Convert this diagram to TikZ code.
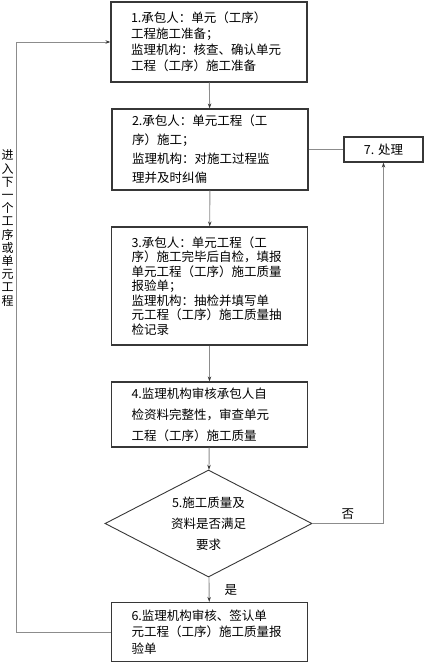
\documentclass[tikz,border=0pt]{standalone}
\usepackage{graphicx}
\usepackage{fontspec}
\setmainfont{Noto Sans CJK SC}
\usetikzlibrary{shapes.geometric,arrows.meta,positioning}
\definecolor{boxclr}{RGB}{55,55,55}
\definecolor{lineclr}{RGB}{140,140,140}
% text blocks set at 10pt and scaled up: #1 width, #2 line spacing, #3 lines
\newcommand{\steptext}[3]{\scalebox{1.25}{\parbox{#1}{\raggedright\fontsize{10}{#2}\selectfont #3}}}
\newcommand{\midtext}[3]{\scalebox{1.25}{\parbox{#1}{\centering\fontsize{10}{#2}\selectfont #3}}}

\begin{document}
\begin{tikzpicture}[x=1pt, y=-1pt,
  stepbox/.style={draw=boxclr, line width=1.2pt, minimum width=196pt,
    inner xsep=20pt},
  smallbox/.style={draw=boxclr, line width=1.2pt, minimum width=79pt,
    minimum height=25pt},
  decision/.style={draw=boxclr, line width=0.9pt, diamond, aspect=1.93,
    inner sep=0pt, minimum width=207pt, minimum height=107pt},
  flow/.style={draw=lineclr, line width=0.9pt, -{Stealth[length=5pt,width=3.5pt,color=boxclr]}},
  plain/.style={draw=lineclr, line width=0.9pt}
]
\useasboundingbox (0,0) rectangle (428,663);

% Steps down the middle
\node[stepbox, minimum height=80pt] (s1) at (209,42)
  {\steptext{124.8pt}{12.8}{1.承包人：单元（工序）\\工程施工准备；\\监理机构：核查、确认单元\\工程（工序）施工准备}};
\node[stepbox, minimum height=81pt] (s2) at (210,149.5)
  {\steptext{124.8pt}{15.2}{2.承包人：单元工程（工\\序）施工；\\监理机构：对施工过程监\\理并及时纠偏}};
\node[stepbox, minimum height=118pt] (s3) at (209.5,286)
  {\steptext{124.8pt}{11.6}{3.承包人：单元工程（工\\序）施工完毕后自检，填报\\单元工程（工序）施工质量\\报验单；\\监理机构：抽检并填写单\\元工程（工序）施工质量抽\\检记录}};
\node[stepbox, minimum height=65pt] (s4) at (209.5,414.5)
  {\steptext{124.8pt}{16.8}{4.监理机构审核承包人自\\检资料完整性，审查单元\\工程（工序）施工质量}};
\node[decision] (s5) at (208.5,523.5) {\midtext{80pt}{16.8}{5.施工质量及\\资料是否满足\\要求}};
\node[stepbox, minimum height=59pt] (s6) at (209.5,632)
  {\steptext{124.8pt}{13.2}{6.监理机构审核、签认单\\元工程（工序）施工质量报\\验单}};

% Handling box on the right
\node[smallbox] (s7) at (383.5,149.5) {\midtext{48pt}{12}{7. 处理}};

% Main flow
\draw[flow] (s1) -- (s2);
\draw[flow] (s2) -- (s3);
\draw[flow] (s3) -- (s4);
\draw[flow] (s4) -- (s5);
\draw[flow] (s5) -- node[right=11pt] {\midtext{11.2pt}{12}{是}} (s6);

% Rejection loop
\draw[plain] (s2.east) -- (s7.west);
\draw[flow] (s5.east) -| node[pos=0.25, above] {\midtext{11.2pt}{12}{否}} (s7.south);

% Back to the next step
\coordinate (back) at (16,0);
\draw[flow] (s6.west) -- (s6.west -| back) |- (s1.west);
\node[inner sep=0pt] (nextlbl) at (7.5,228)
  {\scalebox{1.2}{\parbox{11pt}{\centering\fontsize{10}{11}\selectfont 进\\入\\下\\一\\个\\工\\序\\或\\单\\元\\工\\程}}};

\end{tikzpicture}
\end{document}
